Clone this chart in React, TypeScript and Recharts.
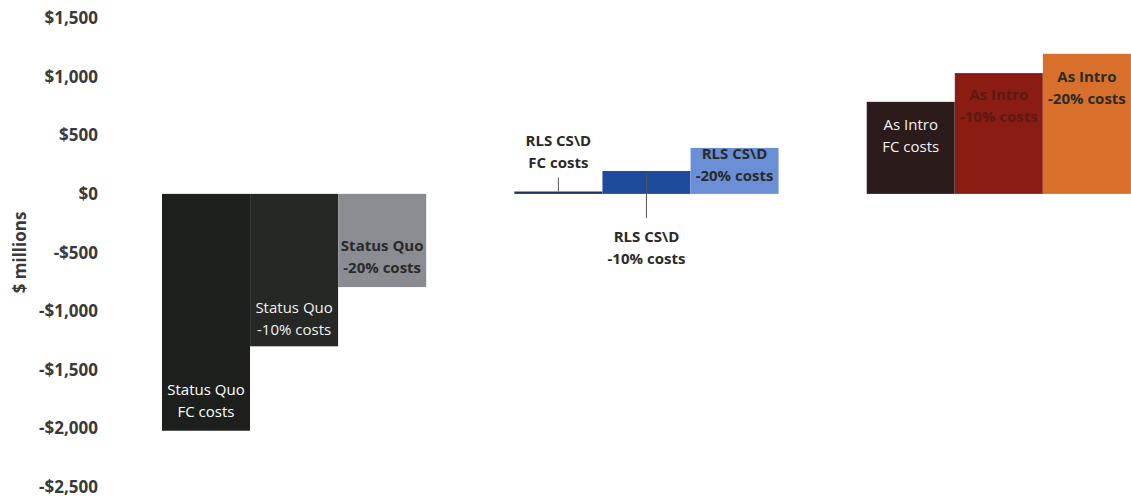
import { BarChart, Bar, XAxis, YAxis } from 'recharts';

const categories = [
  'Status Quo FC costs', 'Status Quo -10% costs', 'Status Quo -20% costs', 'gap-1',
  'RLS CS\\D FC costs', 'RLS CS\\D -10% costs', 'RLS CS\\D -20% costs', 'gap-2',
  'As Intro FC costs', 'As Intro -10% costs', 'As Intro -20% costs',
];
const values = [-2020, -1300, -795, null, 20, 195, 392, null, 785, 1030, 1195];
const barColors = [
  '#1c1f1c', '#252825', '#8a8c92', '',
  '#1c3260', '#1e4a9c', '#6b8fd6', '',
  '#2b1b1b', '#8a1c14', '#d8702c',
];
const yTicks = [-2500, -2000, -1500, -1000, -500, 0, 500, 1000, 1500];

const labelLines = [
  ['Status Quo', 'FC costs'], ['Status Quo', '-10% costs'], ['Status Quo', '-20% costs'], [],
  ['RLS CS\\D', 'FC costs'], ['RLS CS\\D', '-10% costs'], ['RLS CS\\D', '-20% costs'], [],
  ['As Intro', 'FC costs'], ['As Intro', '-10% costs'], ['As Intro', '-20% costs'],
];
const labelColors = [
  '#ffffff', '#f2f2f2', '#2a2a2a', '',
  '#2a2a2a', '#2a2a2a', '#2a2a2a', '',
  '#f2f2f2', '#5a1a12', '#2a2a2a',
];
const labelBold = [false, false, true, false, true, true, true, false, false, true, true];
// where the first text line sits: anchored to bar top or bar bottom
const labelAnchor = ['bottom', 'bottom', 'bottom', '', 'top', 'top', 'top', '', 'top', 'top', 'top'];
const labelDy = [-42, -39, -42, 0, -52, 65, 5, 0, 22, 21, 22];
const leaders: (number[] | null)[] = [null, null, null, null, [-14, 0], [2, 47], null, null, null, null, null];

const data = categories.map((name, i) => ({ name, value: values[i], idx: i }));

const fmt = (v: number) => (v < 0 ? '-' : '') + '$' + Math.abs(v).toLocaleString('en-US');

const BarWithText = (props: any) => {
  const { x, y, width, height, payload } = props;
  const i = payload.idx;
  const top = Math.min(y, y + height);
  const bottom = Math.max(y, y + height);
  const cx = x + width / 2;
  const firstY = (labelAnchor[i] === 'bottom' ? bottom : top) + labelDy[i];
  const lead = leaders[i];
  return (
    <g>
      <rect x={x} y={top} width={width} height={Math.max(Math.abs(height), 1)} fill={barColors[i]} />
      {lead && (
        <line x1={cx} x2={cx} y1={top + lead[0]} y2={top + lead[1]} stroke="#555" strokeWidth={1} />
      )}
      {labelLines[i].map((t, k) => (
        <text
          key={k}
          x={cx}
          y={firstY + k * 22}
          textAnchor="middle"
          dominantBaseline="central"
          fill={labelColors[i]}
          fontSize={15}
          fontWeight={labelBold[i] ? 700 : 400}
          fontFamily="'Open Sans', sans-serif"
        >
          {t}
        </text>
      ))}
    </g>
  );
};

const App = () => {
  return (
    <div style={{ position: 'absolute', left: 0, top: 0, background: '#fff' }}>
      <BarChart
        width={1131}
        height={503}
        data={data}
        margin={{ top: 18, right: 0, bottom: 16, left: 0 }}
        barCategoryGap={0}
        barGap={0}
      >
        <XAxis dataKey="name" hide padding={{ left: 56, right: 0 }} />
        <YAxis
          width={106}
          domain={[-2500, 1500]}
          ticks={yTicks}
          tickFormatter={fmt}
          axisLine={false}
          tickLine={false}
          tick={{ fill: '#3a3a3a', fontSize: 17, fontWeight: 700, fontFamily: "'Open Sans', sans-serif" }}
          label={{
            value: '$ millions',
            angle: -90,
            position: 'insideLeft',
            offset: 20,
            style: { fill: '#3a3a3a', fontSize: 17, fontWeight: 700, fontFamily: "'Open Sans', sans-serif", textAnchor: 'middle' },
          }}
        />
        <Bar dataKey="value" isAnimationActive={false} shape={BarWithText} />
      </BarChart>
    </div>
  );
};

export default App;
